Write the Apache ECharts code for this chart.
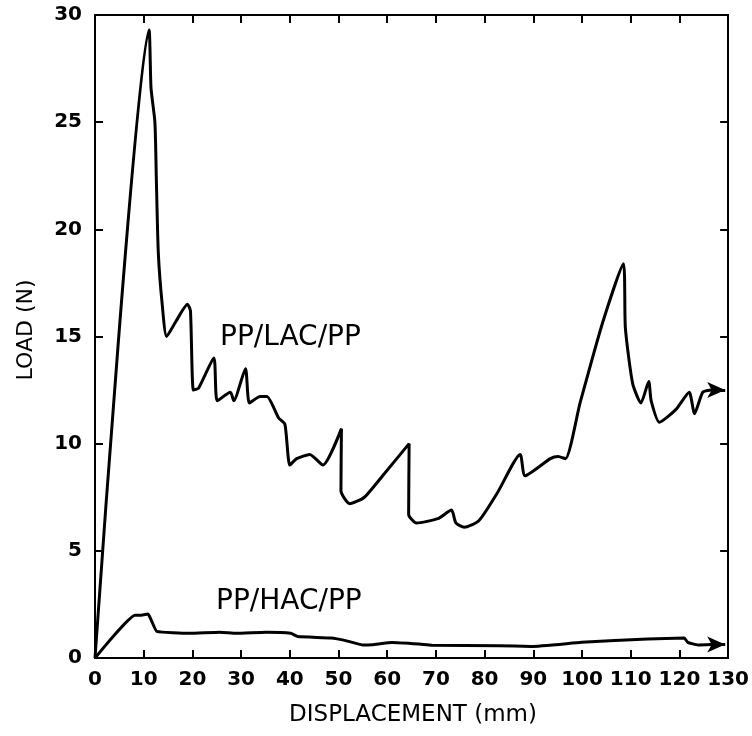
<!DOCTYPE html>
<html>
<head>
<meta charset="utf-8">
<script src="https://cdn.jsdelivr.net/npm/echarts@6/dist/echarts.min.js"></script>
<style>html,body{margin:0;padding:0;background:#fff;}#c{width:752px;height:736px;}</style>
</head>
<body>
<div id="c"></div>
<script>
// Data (displacement mm, load N)
const lacData = [
  [0,0],[11.1,29.3],[11.5,26.6],[12.3,25.0],[12.6,22.3],[13.0,18.9],[13.8,16.5],[14.7,15.0],
  [16.6,15.7],[19.0,16.5],[19.6,16.2],[20.2,12.5],[21.3,12.6],[24.4,14.0],[25.1,12.0],
  [27.8,12.4],[28.5,12.0],[30.9,13.5],[31.7,11.9],[33.9,12.2],[35.3,12.2],[37.7,11.2],
  [39.0,10.9],[40.0,9.0],[41.4,9.3],[44.1,9.5],[46.8,9.0],[50.6,10.7],[50.5,7.8],
  [52.3,7.2],[55.3,7.5],[59.4,8.6],[64.5,10.0],[64.4,6.7],[66.0,6.3],[70.4,6.5],
  [73.2,6.9],[74.1,6.3],[75.8,6.1],[78.8,6.4],[82.6,7.7],[87.3,9.5],[88.3,8.5],
  [93.5,9.3],[95.1,9.4],[96.6,9.3],[99.6,11.9],[104.3,15.7],[108.5,18.4],[108.9,15.4],
  [110.4,12.8],[112.1,11.9],[113.7,12.9],[114.2,12.0],[115.9,11.0],[119.3,11.6],
  [122.0,12.4],[123.1,11.4],[124.8,12.4],[126.5,12.5]
];
const lacArrow = [[126.5,12.5],[129.4,12.5]];
const hacData = [
  [0,0],[8.2,2.0],[9.5,2.0],[10.9,2.05],[11.6,1.74],[12.7,1.24],[19.4,1.15],[25.6,1.2],
  [29.0,1.15],[35.1,1.2],[40.2,1.15],[41.6,1.0],[48.4,0.93],[51.5,0.81],[54.9,0.61],
  [56.9,0.62],[61.0,0.72],[66.5,0.65],[69.2,0.6],[82.8,0.57],[89.6,0.54],[99.9,0.73],
  [113.5,0.89],[121.0,0.93],[121.7,0.73],[123.8,0.61],[126.5,0.63]
];
const hacArrow = [[126.5,0.63],[129.4,0.63]];
const seriesNames = ['PP/LAC/PP','PP/HAC/PP'];
const xTitle = 'DISPLACEMENT (mm)';
const yTitle = 'LOAD (N)';
const xRange = [0,130,10];
const yRange = [0,30,5];

const chart = echarts.init(document.getElementById('c'));
const lineCol = '#000';
function xAx(pos, show){
  return {type:'value', position:pos, min:xRange[0], max:xRange[1], interval:xRange[2],
    axisLine:{show:true, onZero:false, lineStyle:{color:lineCol, width:2}},
    axisTick:{show:true, inside:true, length:8, lineStyle:{color:lineCol, width:2}},
    axisLabel:{show:show, margin:12, color:'#000', fontFamily:'DejaVu Sans', fontWeight:'bold', fontSize:20},
    splitLine:{show:false}};
}
function yAx(pos, show){
  return {type:'value', position:pos, min:yRange[0], max:yRange[1], interval:yRange[2],
    axisLine:{show:true, onZero:false, lineStyle:{color:lineCol, width:2}},
    axisTick:{show:true, inside:true, length:8, lineStyle:{color:lineCol, width:2}},
    axisLabel:{show:show, margin:13, color:'#000', fontFamily:'DejaVu Sans', fontWeight:'bold', fontSize:20},
    splitLine:{show:false}};
}
function arrowLine(seg){
  return {silent:true, symbol:['none','arrow'], symbolSize:[12,18],
    lineStyle:{color:lineCol, width:3, type:'solid'}, label:{show:false},
    data:[[{coord:seg[0]},{coord:seg[1]}]]};
}
const option = {
  backgroundColor:'#fff',
  animation:false,
  grid:{left:95, right:21, top:15, bottom:78, containLabel:false},
  xAxis:[xAx('bottom', true), xAx('top', false)],
  yAxis:[yAx('left', true), yAx('right', false)],
  series:[
    {name:seriesNames[0], type:'line', xAxisIndex:0, yAxisIndex:0, data:lacData, smooth:0.2,
     showSymbol:false, symbol:'none', lineStyle:{color:lineCol, width:3}, markLine:arrowLine(lacArrow)},
    {name:seriesNames[1], type:'line', xAxisIndex:0, yAxisIndex:0, data:hacData, smooth:0.12,
     showSymbol:false, symbol:'none', lineStyle:{color:lineCol, width:3}, markLine:arrowLine(hacArrow)}
  ],
  graphic:[
    {type:'text', left:220, top:324, style:{text:seriesNames[0], fontSize:28, fontFamily:'DejaVu Sans', fill:'#000'}},
    {type:'text', left:216, top:588, style:{text:seriesNames[1], fontSize:28, fontFamily:'DejaVu Sans', fill:'#000'}},
    {type:'text', x:413, y:715, style:{text:xTitle, fontSize:23, fontFamily:'DejaVu Sans', fill:'#000', align:'center', verticalAlign:'middle'}},
    {type:'text', x:26, y:330, rotation:Math.PI/2, style:{text:yTitle, fontSize:22, fontFamily:'DejaVu Sans', fill:'#000', align:'center', verticalAlign:'middle'}}
  ]
};
chart.setOption(option);
</script>
</body>
</html>
